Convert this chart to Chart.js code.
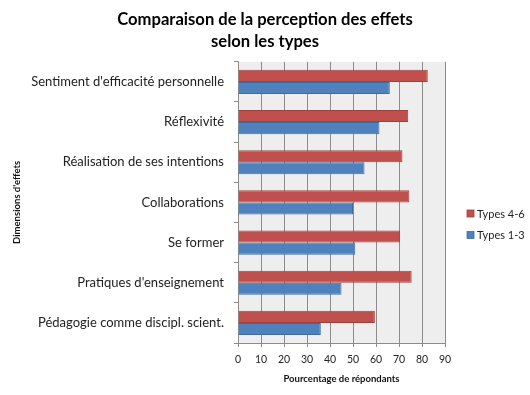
<!DOCTYPE html>
<html>
<head>
<meta charset="utf-8">
<script src="https://cdn.jsdelivr.net/npm/chart.js@4/dist/chart.umd.min.js"></script>
<style>
html,body{margin:0;padding:0;background:#fff;}
#wrap{width:530px;height:395px;position:relative;}
</style>
</head>
<body>
<div id="wrap"><canvas id="c" width="530" height="395"></canvas></div>
<script>
const categories = [
  "Sentiment d'efficacité personnelle",
  "Réflexivité",
  "Réalisation de ses intentions",
  "Collaborations",
  "Se former",
  "Pratiques d'enseignement",
  "Pédagogie comme discipl. scient."
];
const seriesNames = ["Types 4-6", "Types 1-3"];
const types46 = [82.5, 74, 71.5, 74.5, 70.5, 75.5, 59.5];
const types13 = [66, 61.5, 55, 50, 51, 45, 36];
const xTicks = [0, 10, 20, 30, 40, 50, 60, 70, 80, 90];

const FONT = "Lato, 'Open Sans', sans-serif";
const colors = ['#C0504D', '#4F81BD'];
const borders = ['#A0403D', '#3F6DA3'];

const plotBg = {
  id: 'plotBg',
  beforeDraw(chart) {
    const {ctx, chartArea: a} = chart;
    ctx.save();
    ctx.fillStyle = '#EEEEEE';
    ctx.fillRect(a.left, a.top, a.right - a.left, a.bottom - a.top);
    ctx.restore();
  }
};

const customLegend = {
  id: 'customLegend',
  afterDraw(chart) {
    const {ctx} = chart;
    ctx.save();
    ctx.font = "11px " + FONT;
    ctx.textBaseline = 'middle';
    const ys = [213.5, 235];
    chart.data.datasets.forEach((ds, i) => {
      ctx.fillStyle = ds.backgroundColor;
      ctx.fillRect(467, ys[i] - 3.5, 7, 7);
      ctx.strokeStyle = ds.borderColor;
      ctx.lineWidth = 0.8;
      ctx.strokeRect(467, ys[i] - 3.5, 7, 7);
      ctx.fillStyle = '#222';
      ctx.fillText(ds.label, 477, ys[i] + 0.5);
    });
    ctx.restore();
  }
};

new Chart(document.getElementById('c'), {
  type: 'bar',
  data: {
    labels: categories,
    datasets: [
      { label: seriesNames[0], data: types46, backgroundColor: colors[0], borderColor: borders[0], borderWidth: 1 },
      { label: seriesNames[1], data: types13, backgroundColor: colors[1], borderColor: borders[1], borderWidth: 1 }
    ]
  },
  options: {
    indexAxis: 'y',
    responsive: false,
    animation: false,
    devicePixelRatio: 1,
    layout: { padding: { top: 9, right: 0, bottom: 0, left: 0 } },
    datasets: { bar: { categoryPercentage: 0.6, barPercentage: 1.0 } },
    plugins: {
      legend: { display: false },
      tooltip: { enabled: false },
      title: {
        display: true,
        text: ["Comparaison de la perception des effets", "selon les types"],
        font: { family: FONT, size: 16.6, weight: 'bold', lineHeight: 1.32 },
        color: '#000',
        padding: { top: 0, bottom: 9 }
      }
    },
    scales: {
      x: {
        min: 0, max: 90,
        afterBuildTicks(s) { s.ticks = xTicks.map(v => ({ value: v })); },
        afterFit(s) { s.height = 52; },
        ticks: { font: { family: FONT, size: 10.5 }, color: '#222', padding: 6 },
        grid: { color: '#8C8C8C', lineWidth: 1, tickLength: 4, drawTicks: true },
        border: { color: '#8C8C8C', width: 1 },
        title: {
          display: true,
          text: 'Pourcentage de répondants',
          font: { family: FONT, size: 9.5, weight: 'bold' },
          color: '#111',
          padding: { top: 0, bottom: 10 }
        }
      },
      y: {
        afterFit(s) { s.width = 238; },
        ticks: { font: { family: FONT, size: 13 }, color: '#222', padding: 10 },
        grid: { offset: true, drawOnChartArea: false, tickLength: 4, color: '#8C8C8C' },
        border: { color: '#8C8C8C', width: 1 },
        title: {
          display: true,
          text: "Dimensions d'effets",
          font: { family: FONT, size: 9.5, weight: 'bold' },
          color: '#111',
          padding: { top: 11, bottom: 0 }
        }
      },
      spacer: {
        type: 'linear',
        position: 'right',
        axis: 'y',
        display: true,
        afterFit(s) { s.width = 85; },
        ticks: { display: false },
        grid: { display: false },
        border: { display: false }
      }
    }
  },
  plugins: [plotBg, customLegend]
});
</script>
</body>
</html>
